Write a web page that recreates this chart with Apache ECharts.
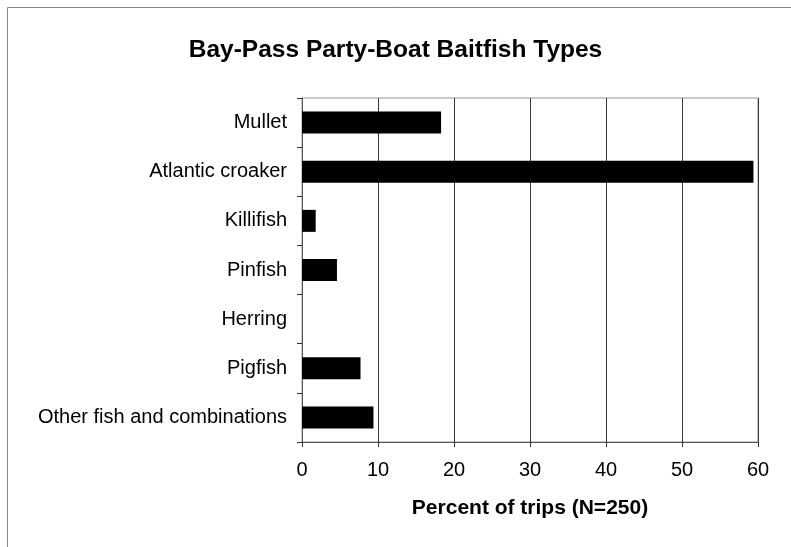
<!DOCTYPE html>
<html><head><meta charset="utf-8">
<script src="https://cdn.jsdelivr.net/npm/echarts@6/dist/echarts.min.js"></script>
<style>html,body{margin:0;padding:0;background:#fff}#c{width:791px;height:547px}</style>
</head><body><div id="c"></div>
<script>
var categories = ["Mullet","Atlantic croaker","Killifish","Pinfish","Herring","Pigfish","Other fish and combinations"];
var percentValues = [18.3, 59.4, 1.8, 4.6, 0, 7.7, 9.4];
var xTicks = [0,10,20,30,40,50,60];
var chartTitle = "Bay-Pass Party-Boat Baitfish Types";
var xAxisTitle = "Percent of trips (N=250)";

var font = "'Liberation Sans', Arial, sans-serif";
var chart = echarts.init(document.getElementById('c'));
chart.setOption({
  animation: false,
  backgroundColor: '#fff',
  title: {
    text: chartTitle, left: 'center', top: 33,
    textStyle: {fontFamily: font, fontSize: 24.5, fontWeight: 'bold', color: '#000'}
  },
  grid: {left: 302, right: 33, top: 98, bottom: 105, show: true, borderColor: '#999', borderWidth: 1},
  xAxis: {
    type: 'value', min: 0, max: 60, interval: 10,
    name: xAxisTitle, nameLocation: 'middle', nameGap: 56,
    nameTextStyle: {fontFamily: font, fontSize: 21, fontWeight: 'bold', color: '#000'},
    axisLine: {show: true, lineStyle: {color: '#555', width: 1}},
    axisTick: {show: true, length: 5, lineStyle: {color: '#333'}},
    splitLine: {show: true, lineStyle: {color: '#333', width: 1}},
    axisLabel: {fontFamily: font, fontSize: 20, color: '#000', margin: 18,
      formatter: function(v){ return xTicks.indexOf(v) >= 0 ? String(v) : ''; }}
  },
  yAxis: {
    type: 'category', data: categories, inverse: true,
    axisLine: {show: true, lineStyle: {color: '#555', width: 1}},
    axisTick: {show: true, length: 5, inside: false, lineStyle: {color: '#333'}},
    axisLabel: {fontFamily: font, fontSize: 20, color: '#000', margin: 15}
  },
  series: [{
    type: 'bar', data: percentValues, barWidth: 22,
    itemStyle: {color: '#000'}
  }],
  graphic: [{
    type: 'rect', shape: {x: 7.5, y: 7.5, width: 800, height: 600},
    style: {fill: 'none', stroke: '#888', lineWidth: 1}, silent: true
  }]
});
</script></body></html>
